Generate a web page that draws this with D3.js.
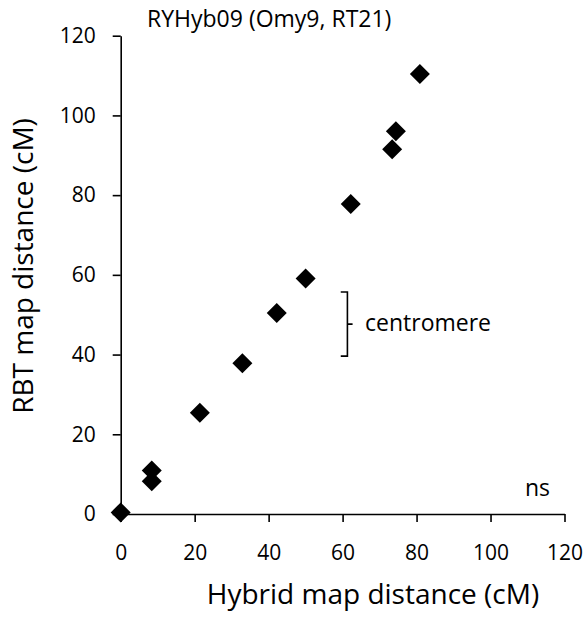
<!DOCTYPE html>
<html>
<head>
<meta charset="utf-8">
<script src="https://cdn.jsdelivr.net/npm/d3@7"></script>
<style>
  html, body { margin: 0; padding: 0; background: #fff; }
  svg { display: block; }
  text { font-family: "Open Sans", "Liberation Sans", sans-serif; fill: #000; }
</style>
</head>
<body>
<svg id="chart" width="588" height="618"></svg>
<script>
// Data
const hybridX = [0, 8.4, 8.4, 21.4, 32.9, 42.2, 50.0, 62.2, 73.4, 74.4, 80.9];
const rbtY    = [0.4, 10.9, 8.2, 25.4, 37.8, 50.4, 59.1, 77.8, 91.5, 96.0, 110.4];
const xTicks = [0, 20, 40, 60, 80, 100, 120];
const yTicks = [0, 20, 40, 60, 80, 100, 120];
const centromereRange = [39.6, 55.7];   // y range of the bracket
const centromereX = [59.5, 61.3, 62.7]; // cap start, bracket line, middle tick end
const titleText = "RYHyb09 (Omy9, RT21)";
const xLabel = "Hybrid map distance (cM)";
const yLabel = "RBT map distance (cM)";

const svg = d3.select("#chart");
const x = d3.scaleLinear().domain([0, 120]).range([120.7, 564.5]);
const y = d3.scaleLinear().domain([0, 120]).range([514, 35.7]);

// Axes
const xAxis = svg.append("g")
  .attr("transform", `translate(0,${y(0)})`)
  .call(d3.axisBottom(x).tickValues(xTicks).tickSize(8).tickSizeOuter(0).tickPadding(23));
const yAxis = svg.append("g")
  .attr("transform", `translate(${x(0)},0)`)
  .call(d3.axisLeft(y).tickValues(yTicks).tickSize(8).tickSizeOuter(0).tickPadding(17));

[xAxis, yAxis].forEach(g => {
  g.selectAll("path.domain").attr("stroke", "#000").attr("stroke-width", 1.6);
  g.selectAll(".tick line").attr("stroke", "#000").attr("stroke-width", 1.6);
  g.selectAll(".tick text").attr("font-size", 21).attr("font-family", "Open Sans").attr("fill", "#000");
});

// Points (diamonds)
const sym = d3.symbol().type(d3.symbolSquare).size(200);
svg.append("g").selectAll("path")
  .data(hybridX.map((d, i) => [d, rbtY[i]]))
  .join("path")
  .attr("d", sym)
  .attr("transform", d => `translate(${x(d[0])},${y(d[1])}) rotate(45)`)
  .attr("fill", "#000");

// Centromere bracket
const [yLo, yHi] = centromereRange;
const midY = (yLo + yHi) / 2;
svg.append("path")
  .attr("d", `M${x(centromereX[0])},${y(yHi)} H${x(centromereX[1])} V${y(yLo)} H${x(centromereX[0])}
              M${x(centromereX[1])},${y(midY)} H${x(centromereX[2])}`)
  .attr("fill", "none").attr("stroke", "#000").attr("stroke-width", 1.6);
svg.append("text")
  .attr("x", 365).attr("y", y(midY)).attr("dy", "0.32em")
  .attr("font-size", 23).text("centromere");

// ns
svg.append("text").attr("x", 525).attr("y", 496).attr("font-size", 23).text("ns");

// Title
svg.append("text").attr("x", 147).attr("y", 27).attr("font-size", 23).text(titleText);

// Axis titles
svg.append("text").attr("x", 373).attr("y", 604)
  .attr("text-anchor", "middle").attr("font-size", 28).text(xLabel);
svg.append("text")
  .attr("transform", `translate(33,266) rotate(-90)`)
  .attr("text-anchor", "middle").attr("font-size", 28).text(yLabel);
</script>
</body>
</html>
